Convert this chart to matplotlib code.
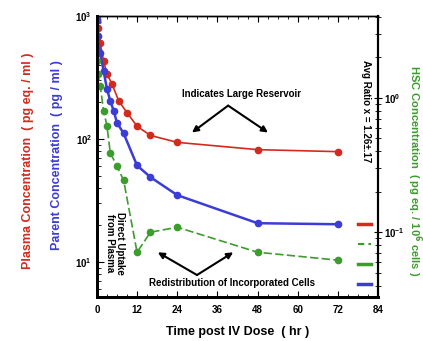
import matplotlib
matplotlib.use("Agg")
import matplotlib.pyplot as plt
from matplotlib.lines import Line2D
from matplotlib.ticker import LogLocator, NullFormatter, FixedLocator

plt.rcParams['font.family'] = ['Liberation Sans', 'DejaVu Sans']
plt.rcParams['font.weight'] = 'bold'

# plasma (total radioactivity), left axis
red_t = [0.25, 1, 2, 3, 4.5, 6.5, 9, 12, 16, 24, 48, 72]
red_v = [800, 600, 433, 339, 281, 205, 164, 127, 107, 94, 82, 79]
# parent compound, left axis
blue_t = [0, 0.25, 1, 2, 3, 4, 5, 6, 8, 12, 16, 24, 48, 72]
blue_v = [930, 690, 500, 360, 256, 205, 170, 136, 111, 61, 49, 35, 20.7, 20.3]
# cell concentration, right axis
green_t = [0, 0.25, 1, 2, 3, 4, 6, 8, 12, 16, 24, 48, 72]
green_v = [1.88, 1.51, 1.23, 0.80, 0.62, 0.39, 0.31, 0.243, 0.071, 0.10, 0.109, 0.071, 0.062]

x_ticks = [0, 12, 24, 36, 48, 60, 72, 84]

red = '#d42a1e'
blue = '#3c3cd6'
green = '#3c9c2c'

fig = plt.figure(figsize=(4.23, 3.41), dpi=100)
ax = fig.add_axes([0.229, 0.129, 0.665, 0.824])
ax2 = ax.twinx()

ax.plot(red_t, red_v, color=red, lw=1.2, marker='o', ms=4.5, zorder=3)
ax.plot(blue_t, blue_v, color=blue, lw=1.8, marker='o', ms=4.5, zorder=3)
ax.plot(blue_t[:1], blue_v[:1], color=blue, ls='none', marker='s', ms=5, zorder=4)
ax2.plot(green_t, green_v, color=green, lw=1.2, ls=(0, (5, 2)), marker='o', ms=4.5)

ax.set_yscale('log')
ax.set_ylim(5.2, 1000)
ax.set_xlim(0, 84)
ax2.set_yscale('log')
ax2.set_ylim(0.033, 4.05)

ax.set_xticks(x_ticks)
ax.set_xticklabels([str(v) for v in x_ticks], fontsize=7, fontweight='bold')
ax.xaxis.set_minor_locator(FixedLocator(range(0, 85, 3)))
ax.tick_params(axis='x', which='both', direction='in', top=True, pad=6)
ax.tick_params(axis='x', which='major', length=4)
ax.tick_params(axis='x', which='minor', length=2)
ax.tick_params(axis='y', which='major', direction='in', length=5, labelsize=7)
ax.tick_params(axis='y', which='minor', direction='in', length=3)
ax.yaxis.set_minor_locator(LogLocator(subs=range(2, 10)))
ax.yaxis.set_minor_formatter(NullFormatter())

ax2.tick_params(axis='y', which='major', direction='inout', length=6, labelsize=7, pad=1)
ax2.tick_params(axis='y', which='minor', direction='inout', length=4)
ax2.yaxis.set_minor_locator(LogLocator(subs=range(2, 10)))
ax2.yaxis.set_minor_formatter(NullFormatter())

for a in (ax, ax2):
    a.spines['left'].set_linewidth(2)
    a.spines['bottom'].set_linewidth(2)
    a.spines['right'].set_linewidth(1.5)
    a.spines['top'].set_linewidth(1)

ax.set_xlabel('Time post IV Dose  ( hr )', fontsize=9, fontweight='bold', labelpad=8)

fig.text(0.066, 0.53, 'Plasma Concentration  ( pg eq. / ml )', rotation=90,
         color=red, fontsize=9, fontweight='bold', ha='center', va='center')
fig.text(0.135, 0.545, 'Parent Concentration  ( pg / ml )', rotation=90,
         color=blue, fontsize=9, fontweight='bold', ha='center', va='center')
fig.text(0.979, 0.50, 'HSC Concentration  ( pg eq. / 10$^6$ cells )', rotation=270,
         color=green, fontsize=8, fontweight='bold', ha='center', va='center')

ax.text(80.5, 170, 'Avg Ratio x = 1.26\u00b1.17', rotation=270, fontsize=7,
        fontweight='bold', ha='center', va='center')

ax.text(43.3, 233, 'Indicates Large Reservoir', fontsize=7, fontweight='bold',
        ha='center', va='center')
for tip in [(28.4, 113), (51.1, 113)]:
    ax.annotate('', xy=tip, xytext=(39.2, 187),
                arrowprops=dict(arrowstyle='-|>', color='black', lw=1.5,
                                mutation_scale=9, shrinkA=0, shrinkB=0))

ax.text(40.4, 6.8, 'Redistribution of Incorporated Cells', fontsize=7,
        fontweight='bold', ha='center', va='center')
for tip in [(18.2, 12.0), (40.7, 12.0)]:
    ax.annotate('', xy=tip, xytext=(29.9, 7.85),
                arrowprops=dict(arrowstyle='-|>', color='black', lw=1.5,
                                mutation_scale=9, shrinkA=0, shrinkB=0))

ax.text(5.4, 14.3, 'Direct Uptake\nfrom Plasma', rotation=270, fontsize=7,
        fontweight='bold', ha='center', va='center', linespacing=1.0)

handles = [Line2D([], [], color=red, lw=2.5),
           Line2D([], [], color=green, lw=1.5, ls=(0, (3, 2))),
           Line2D([], [], color=green, lw=2.5),
           Line2D([], [], color=blue, lw=2.5)]
ax2.legend(handles, ['', '', '', ''], loc='lower right', frameon=False,
           fontsize=8, handlelength=1.2, handletextpad=0, labelspacing=0.9,
           bbox_to_anchor=(1.0, 0.0), borderaxespad=0.2)

fig.savefig('out.png', dpi=100)
